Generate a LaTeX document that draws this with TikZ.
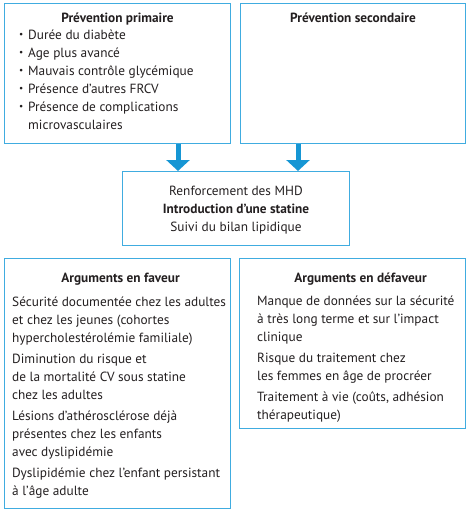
\documentclass[tikz,border=0pt]{standalone}
\usepackage{fontspec}
\setmainfont{PT Sans}
\usetikzlibrary{positioning,arrows.meta}
\definecolor{boxblue}{RGB}{64,172,224}
\definecolor{arrowblue}{RGB}{22,150,212}
\definecolor{inkgray}{RGB}{35,31,32}
\newcommand{\puce}{\makebox[9pt][l]{\raisebox{1.2pt}{\scalebox{0.7}{\textbullet}}}}
\newcommand{\gap}{\\[3pt]}
\tikzset{
  box/.style={draw=boxblue, line width=1pt, anchor=north west, inner sep=0pt},
  head/.style={font=\fontsize{13.3}{18}\selectfont\bfseries, text=inkgray, inner sep=0pt, anchor=base},
  body/.style={font=\fontsize{13.3}{18}\selectfont, text=inkgray, align=left, inner sep=0pt, anchor=base west},
  flowarrow/.style={draw=arrowblue, fill=arrowblue, line width=5pt, -{Triangle[width=23pt,length=11pt]}}
}

\begin{document}
\begin{tikzpicture}[x=1pt,y=1pt]
  \useasboundingbox (0,0) rectangle (470,-515);

  % Boxes
  \node[box, minimum width=226pt, minimum height=140pt] (prim) at (4,-3) {};
  \node[box, minimum width=225pt, minimum height=140pt] (sec) at (240,-3) {};
  \node[box, minimum width=227pt, minimum height=74pt] (mid) at (122,-171) {};
  \node[box, minimum width=226pt, minimum height=250pt] (fav) at (4,-258) {};
  \node[box, minimum width=226pt, minimum height=170pt] (def) at (239,-258) {};

  % Prevention (base = last line)
  \node[head] (primhead) at ([yshift=-19pt]prim.north) {Prévention primaire};
  \node[body] (primlist) at ([xshift=15pt,yshift=-126pt]prim.north west) {%
    \puce Durée du diabète\\
    \puce Age plus avancé\\
    \puce Mauvais contrôle glycémique\\
    \puce Présence d’autres FRCV\\
    \puce Présence de complications\\
    \hspace*{9pt}microvasculaires};
  \node[head] (sechead) at ([yshift=-19pt]sec.north) {Prévention secondaire};

  % Conduite
  \node[body, align=center, anchor=base] (midtext) at ([yshift=-60pt]mid.north) {%
    Renforcement des MHD\\
    \textbf{Introduction d’une statine}\\
    Suivi du bilan lipidique};

  % Arguments
  \node[head] (favhead) at ([xshift=3pt,yshift=-24pt]fav.north) {Arguments en faveur};
  \node[body] (favlist) at ([xshift=8pt,yshift=-237pt]fav.north west) {%
    Sécurité documentée chez les adultes\\
    et chez les jeunes (cohortes\\
    hypercholestérolémie familiale)\gap
    Diminution du risque et\\
    de la mortalité CV sous statine\\
    chez les adultes\gap
    Lésions d’athérosclérose déjà\\
    présentes chez les enfants\\
    avec dyslipidémie\gap
    Dyslipidémie chez l’enfant persistant\\
    à l’âge adulte};
  \node[head] (defhead) at ([xshift=8pt,yshift=-24pt]def.north) {Arguments en défaveur};
  \node[body] (deflist) at ([xshift=18pt,yshift=-161pt]def.north west) {%
    Manque de données sur la sécurité\\
    à très long terme et sur l’impact\\
    clinique\gap
    Risque du traitement chez\\
    les femmes en âge de procréer\gap
    Traitement à vie (coûts, adhésion\\
    thérapeutique)};

  % Arrows
  \draw[flowarrow] ([xshift=-58pt]mid.north |- prim.south) -- ([xshift=-58pt]mid.north);
  \draw[flowarrow] ([xshift=62pt]mid.north |- sec.south) -- ([xshift=62pt]mid.north);
\end{tikzpicture}
\end{document}
